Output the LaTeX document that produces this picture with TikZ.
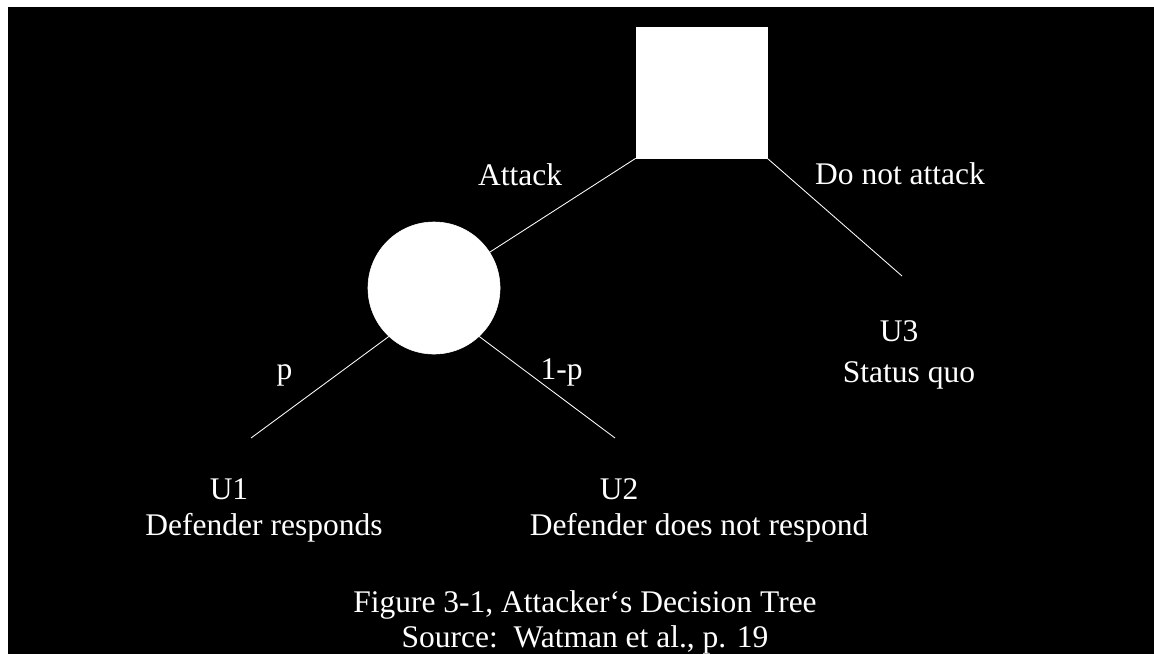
\documentclass[tikz,border=0pt]{standalone}
\usepackage{fontspec}
\setmainfont{Liberation Serif}
\usetikzlibrary{positioning}
\tikzset{
	decision/.style={draw=white,fill=white,rectangle,minimum size=3.275cm,inner sep=0pt},
	chance/.style={draw=white,fill=white,circle,minimum size=3.3cm,inner sep=0pt},
	branch/.style={draw=white,line width=0.6pt},
	lbl/.style={text=white,inner sep=0pt,anchor=base,font=\fontsize{22.4}{27}\selectfont}
}

\begin{document}
\begin{tikzpicture}[x=0.025cm,y=-0.025cm]
            \fill[white] (0,0) rectangle (1154,654);
            \fill[black] (8,7) rectangle (1154,654);
            \useasboundingbox (0,0) rectangle (1154,654);
            \node[decision] (dec) at (701.5,92.5) {};
            \node[chance] (chn) at (434,288) {};
            \coordinate (endu1) at (251,438);
            \coordinate (endu2) at (615,438);
            \coordinate (endu3) at (902,276);
            \draw[branch,shorten >=7pt] (dec.south west) -- (chn.center);
            \draw[branch] (dec.south east) -- (endu3);
            \draw[branch] (chn.227) -- (endu1);
            \draw[branch] (chn.313) -- (endu2);
            \node[lbl] (attack) at (520,185) {Attack};
            \node[lbl] (noattack) at (900,184) {Do not attack};
            \node[lbl] (prob) at (284.5,379) {p};
            \node[lbl] (probc) at (561.5,379) {1-p};
            \node[lbl] (u1) at (229,499) {U1};
            \node[lbl] (u1txt) at (264,535) {Defender responds};
            \node[lbl] (u2) at (619,499) {U2};
            \node[lbl] (u2txt) at (699,535) {Defender does not respond};
            \node[lbl] (u3) at (899,341) {U3};
            \node[lbl] (u3txt) at (909,382) {Status quo};
            \node[lbl] (title) at (585,612) {Figure 3-1, Attacker`s Decision Tree};
            \node[lbl] (source) at (585,647) {Source:\ \ Watman et al., p. 19};
        \end{tikzpicture}
\end{document}
